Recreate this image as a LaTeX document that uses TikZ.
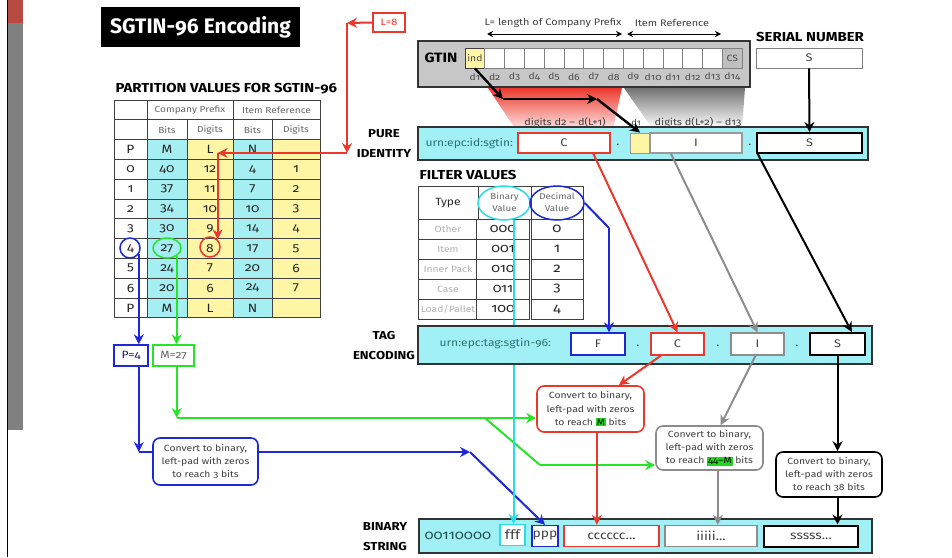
\documentclass[tikz,border=0pt]{standalone}
\usepackage{fontspec}
\setmainfont{Fira Sans}[Numbers=OldStyle,FakeStretch=1.15]
\newfontfamily\titlefont{Fira Sans}[Numbers=OldStyle]
\usetikzlibrary{shapes,arrows,arrows.meta,positioning,calc}

\definecolor{idcyan}{RGB}{160,240,245}
\definecolor{bitcyan}{RGB}{165,238,242}
\definecolor{digyellow}{RGB}{255,246,165}
\definecolor{urnteal}{RGB}{45,115,115}
\definecolor{fgred}{RGB}{236,56,44}
\definecolor{fggreen}{RGB}{40,228,40}
\definecolor{fgblue}{RGB}{30,40,215}
\definecolor{fgcyan}{RGB}{40,220,232}
\definecolor{fggray}{RGB}{140,140,140}
\definecolor{hlgreen}{RGB}{30,215,30}
\definecolor{barred}{RGB}{184,74,68}
\definecolor{bargray}{RGB}{128,128,128}

\newcommand{\hlbox}[1]{{\setlength{\fboxsep}{1pt}\colorbox{hlgreen}{\textcolor{black}{#1}}}}

\begin{document}
\begin{tikzpicture}[x=1pt,y=-1pt,>={Stealth[length=10pt,width=10pt]},
cell/.style={
% The shape:
rectangle,inner sep=0pt,
% The border:
draw=black!75,line width=0.9pt,
% Font
font=\fontsize{12}{14}\selectfont,text=black!85},
headcell/.style={cell,fill=white,font=\fontsize{8.8}{11}\selectfont,text=black!60},
strip/.style={
% The shape:
rectangle,inner sep=0pt,
% The border:
draw=black!80,line width=1.8pt,
% The filling:
fill=idcyan},
field/.style={
% The shape:
rectangle,inner sep=0pt,minimum height=20pt,
% The border:
line width=1.3pt,fill=white,
% Font
font=\fontsize{11}{13}\selectfont,text=black!75},
convert/.style={
% The shape:
rectangle,rounded corners=7pt,inner sep=1pt,
% The size:
minimum width=106pt,minimum height=45pt,
% The border:
line width=1.6pt,fill=white,
% Font
font=\fontsize{9}{13.3}\selectfont,text=black!75,align=center},
heading/.style={font=\bfseries\fontsize{11.5}{20}\selectfont,align=center},
note/.style={font=\fontsize{9.5}{11}\selectfont,text=black!75},
link/.style={line width=2pt}
]
\useasboundingbox (0,0) rectangle (952,557);

% side bar
\fill [barred] (7.5,0) rectangle (22.5,23);
\fill [bargray] (7.5,23) rectangle (22.5,430);
\draw [black,line width=0.8pt] (7.5,0) -- (7.5,557);

% title
\node (title) [fill=black,text=white,font=\titlefont\bfseries\fontsize{21}{24}\selectfont,
  minimum width=199pt,minimum height=40pt,inner sep=0pt] at (200.5,27) {SGTIN-96 Encoding};

% partition table
\node (ptitle) [anchor=west,font=\bfseries\fontsize{13}{15}\selectfont] at (112,89) {PARTITION VALUES FOR SGTIN-96};
\node (h0a) [headcell,minimum width=33pt,minimum height=19.8pt] at (130.5,109.9) {};
\node (h0b) [headcell,minimum width=86pt,minimum height=19.8pt] at (190,109.9) {Company Prefix};
\node (h0c) [headcell,minimum width=87pt,minimum height=19.8pt] at (276.5,109.9) {Item Reference};
\node (h1a) [headcell,minimum width=33pt,minimum height=19.8pt] at (130.5,129.7) {};
\node (h1b) [headcell,minimum width=40pt,minimum height=19.8pt] at (167,129.7) {Bits};
\node (h1c) [headcell,minimum width=46pt,minimum height=19.8pt] at (210,129.7) {Digits};
\node (h1d) [headcell,minimum width=39pt,minimum height=19.8pt] at (252.5,129.7) {Bits};
\node (h1e) [headcell,minimum width=48pt,minimum height=19.8pt] at (296,129.7) {Digits};
\foreach \r/\ra/\rb/\rc/\rd/\re in {2/P/M/L/N/{},3/0/40/12/4/1,4/1/37/11/7/2,5/2/34/10/10/3,
  6/3/30/9/14/4,7/4/27/8/17/5,8/5/24/7/20/6,9/6/20/6/24/7,10/P/M/L/N/{}}{
  \node (p\r a) [cell,fill=white,minimum width=33pt,minimum height=19.8pt] at (130.5,{100+19.8*(\r+0.5)}) {\ra};
  \node (p\r b) [cell,fill=bitcyan,minimum width=40pt,minimum height=19.8pt] at (167,{100+19.8*(\r+0.5)}) {\rb};
  \node (p\r c) [cell,fill=digyellow,minimum width=46pt,minimum height=19.8pt] at (210,{100+19.8*(\r+0.5)}) {\rc};
  \node (p\r d) [cell,fill=bitcyan,minimum width=39pt,minimum height=19.8pt] at (252.5,{100+19.8*(\r+0.5)}) {\rd};
  \node (p\r e) [cell,fill=digyellow,minimum width=48pt,minimum height=19.8pt] at (296,{100+19.8*(\r+0.5)}) {\re};
}
\node (c4) [draw=fgblue,circle,line width=1.5pt,minimum size=20pt] at (130,248) {};
\node (c27) [draw=fggreen,ellipse,line width=1.5pt,minimum width=28pt,minimum height=20pt] at (167,248) {};
\node (c8) [draw=fgred,circle,line width=1.5pt,minimum size=20pt] at (210,247) {};
\node (l8) [field,draw=fgred,line width=1.2pt,minimum width=32pt,minimum height=19pt,text=fgred,
  font=\fontsize{9.5}{11}\selectfont] at (389,22.5) {L=8};

% GTIN
\node (gtin) [rectangle,draw=black!80,line width=1.8pt,fill=black!22,minimum width=332pt,
  minimum height=46pt,inner sep=0pt] at (584,64) {};
\node (gtinlbl) [font=\bfseries\fontsize{13.5}{15}\selectfont] at (441,58) {GTIN};
\node (ind) [cell,fill=digyellow,minimum width=19.8pt,minimum height=20pt,font=\fontsize{9}{11}\selectfont,
  text=black!70] at (474.9,58) {ind};
\foreach \i in {2,...,13}
  \node (g\i) [cell,draw=black!50,fill=white,minimum width=19.8pt,minimum height=20pt] at ({465+19.8*(\i-0.5)},58) {};
\node (cs) [cell,draw=black!50,fill=black!25,minimum width=19.8pt,minimum height=20pt,font=\fontsize{9}{11}\selectfont,
  text=black!70] at ({465+19.8*13.5},58) {CS};
\foreach \i in {1,...,14}
  \node (dl\i) [font=\fontsize{9}{11}\selectfont,text=black!70] at ({465+19.8*(\i-0.5)},77) {d\i};
\node (lcp) [note] at (553,23) {L= length of Company Prefix};
\node (iref) [note] at (672,23) {Item Reference};
\coordinate (lcpa) at (487,34);
\coordinate (lcpb) at (622,34);
\coordinate (irefa) at (627,34);
\coordinate (irefb) at (721,34);
\draw [{Stealth[length=6pt,width=6pt]}-{Stealth[length=6pt,width=6pt]},line width=0.7pt] (lcpa) -- (lcpb);
\draw [{Stealth[length=6pt,width=6pt]}-{Stealth[length=6pt,width=6pt]},line width=0.7pt] (irefa) -- (irefb);

% serial number
\node (sntitle) [font=\bfseries\fontsize{13}{15}\selectfont] at (810,37) {SERIAL NUMBER};
\node (sn) [field,draw=black!50,line width=0.9pt,minimum width=106pt] at (809,58) {S};

% funnels
\shade [top color=fgred,bottom color=fgred!5] (488,88) -- (622,88) -- (612,133) -- (518,133) -- cycle;
\shade [top color=black!55,bottom color=white] (624,88) -- (745,88) -- (742,128) -- (652,128) -- cycle;

% pure identity
\node (pid) [strip,minimum width=450pt,minimum height=33pt] at (643,143.5) {};
\node (purl) [anchor=west,font=\fontsize{10.5}{12}\selectfont,text=urnteal] at (422,143.5) {urn:epc:id:sgtin:};
\node (pC) [field,draw=fgred,minimum width=92pt] at (564,143) {C};
\node (pdot1) [field,draw=none,fill=none] at (618,145) {.};
\node (pind) [field,draw=black!40,fill=digyellow,line width=0.9pt,minimum width=20pt] at (640,143) {};
\node (pI) [field,draw=black!40,minimum width=92pt] at (696,143) {I};
\node (pdot2) [field,draw=none,fill=none] at (750,145) {.};
\node (pS) [field,draw=black,line width=2pt,minimum width=105pt] at (809.5,143) {S};
\node (pidlbl) [heading] at (384,144) {PURE\\IDENTITY};
\node (pcl) [note] at (565,122) {digits d2 -- d(L+1)};
\node (pdl) [note,font=\fontsize{8}{10}\selectfont] at (636,123) {d1};
\node (pil) [note] at (698,122) {digits d(L+2) -- d13};

% filter values
\node (ftitle) [anchor=west,font=\bfseries\fontsize{13}{15}\selectfont] at (416,175) {FILTER VALUES};
\node (ftype) [cell,fill=white,minimum width=60pt,minimum height=33pt,font=\fontsize{10.5}{12}\selectfont] at (448,202.5) {Type};
\node (fbin) [headcell,minimum width=53pt,minimum height=33pt,align=center,font=\fontsize{8.5}{12}\selectfont] at (504.5,202.5) {Binary\\Value};
\node (fdec) [headcell,minimum width=52pt,minimum height=33pt,align=center,font=\fontsize{8.5}{12}\selectfont] at (557,202.5) {Decimal\\Value};
\foreach \ft/\fb/\fd [count=\k] in {Other/000/0,Item/001/1,Inner Pack/010/2,Case/011/3,Load\slash Pallet/100/4}{
  \node (ft\k) [cell,fill=white,minimum width=60pt,minimum height=20pt,font=\fontsize{9}{11}\selectfont,text=black!30]
    at (448,{219+20*(\k-0.5)}) {\ft};
  \node (fb\k) [cell,fill=white,minimum width=53pt,minimum height=20pt,font=\fontsize{12.5}{15}\selectfont] at (503,{219+20*(\k-0.5)}) {\fb};
  \node (fd\k) [cell,fill=white,minimum width=52pt,minimum height=20pt,font=\fontsize{13}{15}\selectfont] at (557,{219+20*(\k-0.5)}) {\fd};
}
\node (bval) [draw=fgcyan,ellipse,line width=1.5pt,minimum width=52pt,minimum height=34pt] at (504,203) {};
\node (dval) [draw=fgblue,ellipse,line width=1.5pt,minimum width=54pt,minimum height=34pt] at (557,203) {};

% tag encoding
\node (tag) [strip,minimum width=454pt,minimum height=38pt] at (645,345) {};
\node (turl) [anchor=west,font=\fontsize{10.5}{12}\selectfont,text=urnteal] at (436,344) {urn:epc:tag:sgtin-96:};
\node (tF) [field,draw=fgblue,minimum width=54pt,minimum height=22pt] at (598,344) {F};
\node (tdot1) [field,draw=none,fill=none] at (638,346) {.};
\node (tC) [field,draw=fgred,minimum width=53pt,minimum height=22pt] at (677.5,344) {C};
\node (tdot2) [field,draw=none,fill=none] at (718,346) {.};
\node (tI) [field,draw=fggray,minimum width=53pt,minimum height=22pt] at (757.5,344) {I};
\node (tdot3) [field,draw=none,fill=none] at (797,346) {.};
\node (tS) [field,draw=black,line width=2pt,minimum width=55pt,minimum height=22pt] at (837.5,344) {S};
\node (taglbl) [heading] at (384,346) {TAG\\ENCODING};

% binary string
\node (bin) [strip,minimum width=453pt,minimum height=34pt] at (645.5,536) {};
\node (bpre) [anchor=west,font=\fontsize{13}{15}\selectfont,text=urnteal!70!black] at (421,536) {00110000};
\node (fff) [field,draw=fgcyan,minimum width=25pt,minimum height=21pt,font=\fontsize{13}{15}\selectfont] at (512.5,535) {fff};
\node (ppp) [field,draw=fgblue,minimum width=26pt,minimum height=21pt,font=\fontsize{12}{14}\selectfont] at (545,536) {ppp};
\node (ccc) [field,draw=fgred,minimum width=95pt,minimum height=21pt,font=\fontsize{12}{14}\selectfont] at (611.5,536) {cccccc...};
\node (iii) [field,draw=fggray,minimum width=92pt,minimum height=21pt,font=\fontsize{12}{14}\selectfont] at (711,536) {iiiii...};
\node (sss) [field,draw=black,line width=2pt,minimum width=94pt,minimum height=21pt,font=\fontsize{12}{14}\selectfont] at (811,536) {sssss...};
\node (binlbl) [heading] at (385,537) {BINARY\\STRING};

% P and M
\node (p4) [field,draw=fgblue,minimum width=34pt,minimum height=21pt,text=fgblue!60!black,
  font=\fontsize{10.5}{12}\selectfont] at (131,355.5) {P=4};
\node (m27) [field,draw=fggreen,minimum width=41pt,minimum height=21pt,text=black!60,
  font=\fontsize{10.5}{12}\selectfont] at (173.5,355.5) {M=27};

% convert boxes
\node (bconv) [convert,draw=fgblue,minimum width=105pt,minimum height=47pt] at (205.5,461.5)
  {Convert to binary,\\left-pad with zeros\\to reach 3 bits};
\node (rconv) [convert,draw=fgred,minimum width=107pt,minimum height=46pt] at (590.5,409)
  {Convert to binary,\\left-pad with zeros\\to reach \hlbox{M} bits};
\node (gconv) [convert,draw=fggray,minimum width=107pt,minimum height=44pt] at (709.5,448)
  {Convert to binary,\\left-pad with zeros\\to reach \hlbox{44--M} bits};
\node (kconv) [convert,draw=black,minimum width=106pt,minimum height=45pt] at (829,474.5)
  {Convert to binary,\\left-pad with zeros\\to reach 38 bits};

% company prefix length lookup
\coordinate (rc1) at (347,23);
\coordinate (rc2) at (347,153);
\draw [link,fgred,->] (l8.west) -- (rc1);
\draw [link,fgred,->] (rc1) -- (rc2);
\draw [link,fgred,->] (rc2) -- (c8.45 |- rc2);
\draw [link,fgred,->] (c8.45 |- rc2) -- (c8.45);

% partition value
\coordinate (bturn) at (0,452);
\coordinate (bmid) at (470,452);
\draw [link,fgblue,->] (c4.-35) -- (c4.-35 |- p4.north);
\draw [link,fgblue,->] (c4.-35 |- p4.south) -- (c4.-35 |- bturn);
\draw [link,fgblue] (c4.-35 |- bturn) -- (bconv.west |- bturn);
\draw [link,fgblue,->] (bconv.east |- bturn) -- (bmid);
\draw [link,fgblue,->] (bmid) -- (ppp.north);

% prefix bits
\coordinate (gturn) at (0,418);
\coordinate (gsplit) at (485,418);
\coordinate (gbend) at (540,465);
\draw [link,fggreen,->] (c27.-40) -- (c27.-40 |- m27.north);
\draw [link,fggreen,->] (c27.-40 |- m27.south) -- (c27.-40 |- gturn);
\draw [link,fggreen,->] (c27.-40 |- gturn) -- (rconv.west |- gturn);
\draw [link,fggreen] (gsplit) -- (gbend);
\draw [link,fggreen,->] (gbend) -- (gconv.west |- gbend);

% filter (the cyan line runs behind the tag strip)
\coordinate (dbend) at (609,228);
\draw [link,fgcyan] (bval.-60) -- (bval.-60 |- tag.north);
\draw [link,fgcyan,->] (bval.-60 |- tag.south) -- (bval.-60 |- fff.north);
\draw [link,fgblue] (dval.east) -- (dbend);
\draw [link,fgblue,->] (dbend) -- (dbend |- tF.north);

% indicator digit
\coordinate (k1) at (503,99);
\coordinate (k2) at (597,99);
\draw [line width=2.4pt,->] (ind.south) -- (k1);
\draw [line width=2.4pt,->] (k1) -- (k2);
\draw [line width=2.4pt,->] (k2) -- (pind.north);

% serial
\draw [link,->] (sn.south) -- (pS.north);

% pure identity to tag
\draw [link,fgred,->] (pC.-20) -- (tC.north);
\draw [link,fggray,->] (pI.-157) -- (tI.north);
\draw [link,->] (pS.-168) -- (tS.40);

% tag to binary
\draw [link,fgred,->] (tC.-145) -- (rconv.40);
\draw [link,fggray,->] (tI.-100) -- (gconv.64);
\draw [link,->] (tS.south) -- (tS.south |- kconv.north);
\draw [link,fgred,->] (rconv.-75) -- (rconv.-75 |- ccc.north);
\draw [link,fggray,->] (gconv.-70) -- (gconv.-70 |- iii.north);
\draw [link,->] (tS.south |- kconv.south) -- (tS.south |- sss.north);
\end{tikzpicture}
\end{document}
